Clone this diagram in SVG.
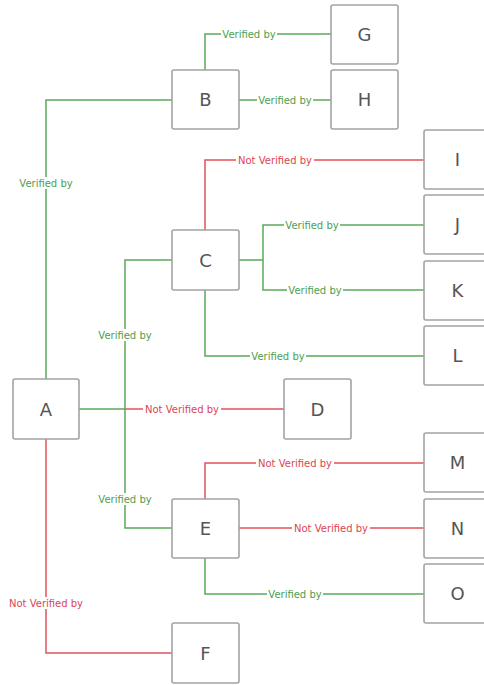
<svg xmlns="http://www.w3.org/2000/svg" width="484" height="685" viewBox="0 0 484 685">
<style>
.box{fill:#fff;stroke:#a3a3a3;stroke-width:1.6}
.lt{font-family:"DejaVu Sans",sans-serif;font-size:18px;fill:#555;text-anchor:middle;dominant-baseline:central}
.g{stroke:#5aa85a;stroke-width:1.5;fill:none}
.r{stroke:#e0525e;stroke-width:1.5;fill:none}
.lg,.lr{font-family:"DejaVu Sans",sans-serif;font-size:10px;text-anchor:middle;dominant-baseline:central}
.lg{fill:#4e9e4e}
.lr{fill:#dc4452}
.bg{fill:#fff}
</style>
<rect width="484" height="685" fill="#fff"/>
<g id="connectors">
<path class="g" d="M46,379V100H172"/>
<path class="g" d="M205,70V34H331"/>
<path class="g" d="M239,100H331"/>
<path class="r" d="M125,409H284"/>
<path class="g" d="M79,409H125V260H172M125,409V528H172"/>
<path class="r" d="M46,439V653H172"/>
<path class="r" d="M205,230V160H424"/>
<path class="g" d="M239,260H263V225H424M263,260V290H424"/>
<path class="g" d="M205,290V356H424"/>
<path class="r" d="M205,499V463H424"/>
<path class="r" d="M239,528H424"/>
<path class="g" d="M205,558V594H424"/>
<rect class="bg" x="18" y="177" width="56" height="12"/><text class="lg" x="46" y="183">Verified by</text>
<rect class="bg" x="221" y="28" width="56" height="12"/><text class="lg" x="249" y="34">Verified by</text>
<rect class="bg" x="257" y="94" width="56" height="12"/><text class="lg" x="285" y="100">Verified by</text>
<rect class="bg" x="97" y="329" width="56" height="12"/><text class="lg" x="125" y="335">Verified by</text>
<rect class="bg" x="97" y="493" width="56" height="12"/><text class="lg" x="125" y="499">Verified by</text>
<rect class="bg" x="143" y="403" width="78" height="12"/><text class="lr" x="182" y="409">Not Verified by</text>
<rect class="bg" x="7" y="597" width="78" height="12"/><text class="lr" x="46" y="603">Not Verified by</text>
<rect class="bg" x="236" y="154" width="78" height="12"/><text class="lr" x="275" y="160">Not Verified by</text>
<rect class="bg" x="284" y="219" width="56" height="12"/><text class="lg" x="312" y="225">Verified by</text>
<rect class="bg" x="287" y="284" width="56" height="12"/><text class="lg" x="315" y="290">Verified by</text>
<rect class="bg" x="250" y="350" width="56" height="12"/><text class="lg" x="278" y="356">Verified by</text>
<rect class="bg" x="256" y="457" width="78" height="12"/><text class="lr" x="295" y="463">Not Verified by</text>
<rect class="bg" x="292" y="522" width="78" height="12"/><text class="lr" x="331" y="528">Not Verified by</text>
<rect class="bg" x="267" y="588" width="56" height="12"/><text class="lg" x="295" y="594">Verified by</text>
</g>
<g id="G"><rect class="box" x="331" y="5" width="67" height="59" rx="2"/><text class="lt" x="364.5" y="34.5">G</text></g>
<g id="H"><rect class="box" x="331" y="70" width="67" height="59" rx="2"/><text class="lt" x="364.5" y="99.5">H</text></g>
<g id="B"><rect class="box" x="172" y="70" width="67" height="59" rx="2"/><text class="lt" x="205.5" y="99.5">B</text></g>
<g id="I"><rect class="box" x="424" y="130" width="67" height="59" rx="2"/><text class="lt" x="457.5" y="159.5">I</text></g>
<g id="J"><rect class="box" x="424" y="195" width="67" height="59" rx="2"/><text class="lt" x="457.5" y="224.5">J</text></g>
<g id="K"><rect class="box" x="424" y="261" width="67" height="59" rx="2"/><text class="lt" x="457.5" y="290.5">K</text></g>
<g id="L"><rect class="box" x="424" y="326" width="67" height="59" rx="2"/><text class="lt" x="457.5" y="355.5">L</text></g>
<g id="C"><rect class="box" x="172" y="230" width="67" height="60" rx="2"/><text class="lt" x="205.5" y="260">C</text></g>
<g id="A"><rect class="box" x="13" y="379" width="66" height="60" rx="2"/><text class="lt" x="46" y="409">A</text></g>
<g id="D"><rect class="box" x="284" y="379" width="67" height="60" rx="2"/><text class="lt" x="317.5" y="409">D</text></g>
<g id="M"><rect class="box" x="424" y="433" width="67" height="59" rx="2"/><text class="lt" x="457.5" y="462.5">M</text></g>
<g id="N"><rect class="box" x="424" y="499" width="67" height="59" rx="2"/><text class="lt" x="457.5" y="528.5">N</text></g>
<g id="E"><rect class="box" x="172" y="499" width="67" height="59" rx="2"/><text class="lt" x="205.5" y="528.5">E</text></g>
<g id="O"><rect class="box" x="424" y="564" width="67" height="59" rx="2"/><text class="lt" x="457.5" y="593.5">O</text></g>
<g id="F"><rect class="box" x="172" y="623" width="67" height="60" rx="2"/><text class="lt" x="205.5" y="653">F</text></g>
</svg>
